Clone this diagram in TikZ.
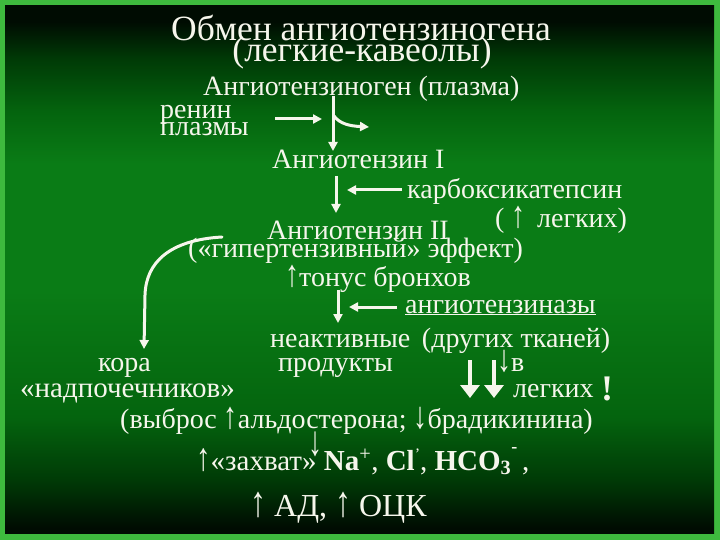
\documentclass[tikz,border=0pt]{standalone}
\usepackage{fontspec}
\usepackage{graphicx}
\setmainfont{Liberation Serif}
\usetikzlibrary{arrows.meta}
\definecolor{frame}{RGB}{62,186,62}
\definecolor{cA}{RGB}{0,12,2}
\definecolor{cB}{RGB}{0,58,6}
\definecolor{cC}{RGB}{4,100,14}
\definecolor{cD}{RGB}{10,124,22}
\definecolor{fg}{RGB}{246,246,236}
\pgfdeclareverticalshading{bgshade}{100bp}{color(0bp)=(cA); color(25.5bp)=(cA); color(30bp)=(cB); color(36bp)=(cC); color(48bp)=(cD); color(60bp)=(cD); color(65bp)=(cC); color(70bp)=(cB); color(73.5bp)=(cA); color(100bp)=(cA)}
\newcommand{\fs}[1]{\fontsize{#1}{#1}\selectfont}
\newcommand{\ua}{\scalebox{1}[1.35]{↑}}
\newcommand{\da}{\scalebox{1}[1.35]{↓}}
\begin{document}
\begin{tikzpicture}[x=1pt,y=-1pt,
  txt/.style={text=fg,inner sep=0pt,anchor=base west,font=\fs{28}},
  ttl/.style={text=fg,inner sep=0pt,anchor=base,font=\fs{35.5}},
  arr/.style={draw=fg,line width=3pt,-{Triangle[length=9pt,width=9pt]}},
  bigarr/.style={draw=fg,line width=4.5pt,-{Triangle[length=13pt,width=19pt]}}]
\useasboundingbox (0,0) rectangle (720,540);
\fill[frame] (0,0) rectangle (720,540);
\shade[shading=bgshade] (5,6) rectangle (714,533);
% title
\node[ttl] (t1) at (361,41) {Обмен ангиотензиногена};
\node[ttl] (t2) at (362,62) {(легкие-кавеолы)};
% chain
\node[txt] (agen) at (203,96) {Ангиотензиноген (плазма)};
\node[txt] (ren1) at (160,119) {ренин};
\node[txt] (ren2) at (160,136) {плазмы};
\node[txt] (ang1) at (272,169) {Ангиотензин I};
\node[txt] (karb) at (407,199) {карбоксикатепсин};
\node[txt] (karb2) at (495,227) {( \ua\ \,легких)};
\node[txt] (ang2) at (267,240) {Ангиотензин II};
\node[txt] (hyp) at (188,258) {(«гипертензивный» эффект)};
\node[txt] (ton) at (285,286) {\ua тонус бронхов};
\node[txt] (aza) at (405,313) {\underline{ангиотензиназы}};
\node[txt] (inact) at (270,347) {неактивные \,(других тканей)};
\node[txt] (prod) at (278,371) {продукты};
\node[txt] (kora) at (98,371) {кора};
\node[txt] (vv) at (497,371) {\da в};
\node[txt,font=\fs{29}] (nadp) at (20,397) {«надпочечников»};
\node[txt] (leg) at (513,397) {легких};
\node[txt,font=\fs{36}\bfseries] (excl) at (601,400) {!};
\node[txt] (vyb) at (120,428) {(выброс \ua альдостерона; \da брадикинина)};
\node[txt,anchor=base] (dn) at (315,455) {\scalebox{1}[1.5]{↓}};
\node[txt,font=\fs{29}] (zah) at (196,470) {\ua«захват» \textbf{Na}\textsuperscript{+}, \textbf{Cl}\raisebox{0.35em}{\fs{16}'}, \textbf{HCO\textsubscript{3}}\raisebox{0.6em}{\fs{18}\bfseries -}\,,};
\node[txt,font=\fs{32}] (ad) at (250,516) {\ua\ АД, \ua\ ОЦК};
% connector points
\coordinate (rs) at (275,119);
\coordinate (re) at (322,119);
\coordinate (v1s) at (333,96);
\coordinate (v1e) at (333,151);
\coordinate (bs) at (334,116);
\coordinate (be) at (369,127);
\coordinate (v2s) at (336,176);
\coordinate (v2e) at (336,213);
\coordinate (h2s) at (402,190);
\coordinate (h2e) at (347,190);
\coordinate (v3s) at (338,290);
\coordinate (v3e) at (338,323);
\coordinate (h3s) at (397,307);
\coordinate (h3e) at (349,307);
\coordinate (cs) at (222,237);
\coordinate (ce) at (144,349);
\coordinate (d1s) at (470,360);
\coordinate (d1e) at (470,398);
\coordinate (d2s) at (494,360);
\coordinate (d2e) at (494,398);
\draw[arr] (rs) -- (re);
\draw[arr] (v1s) -- (v1e);
\draw[arr] (bs) .. controls (340,124) and (350,126) .. (be);
\draw[arr] (v2s) -- (v2e);
\draw[arr] (h2s) -- (h2e);
\draw[arr] (v3s) -- (v3e);
\draw[arr] (h3s) -- (h3e);
\draw[arr,line cap=round] (cs) .. controls (170,240) and (146,262) .. (145,295) -- (ce);
\draw[bigarr] (d1s) -- (d1e);
\draw[bigarr] (d2s) -- (d2e);
\end{tikzpicture}
\end{document}
